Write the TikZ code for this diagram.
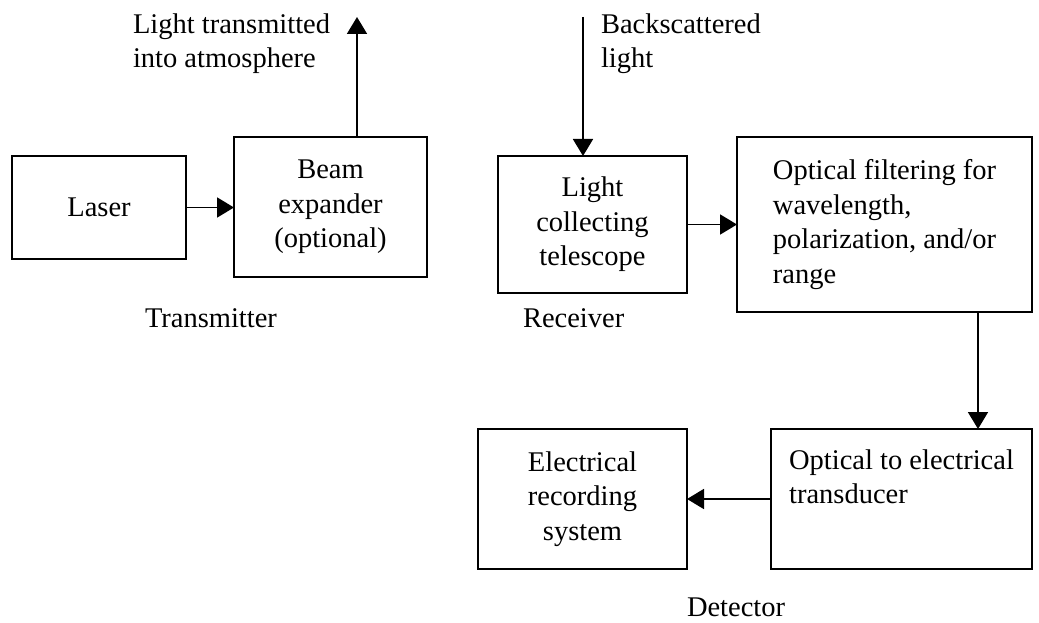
\documentclass[tikz,border=0pt]{standalone}
\usepackage{fontspec}
\setmainfont{Liberation Serif}
\usetikzlibrary{arrows.meta}
\begin{document}
\begin{tikzpicture}[x=1pt,y=-1pt,
  every node/.style={font=\fontsize{28.5}{34.5}\selectfont, inner sep=0pt, outer sep=0pt},
  box/.style={draw=black, line width=1.8pt, rectangle, align=center},
  lbox/.style={box, align=left},
  arr/.style={line width=1.8pt, -{Triangle[length=17pt,width=20pt]}},
  lbl/.style={anchor=base west},
  toplbl/.style={anchor=north west, align=left}]
\fill[white] (0,0) rectangle (1039,623);
\useasboundingbox (0,0) rectangle (1039,623);

% boxes
\node[box, minimum width=174pt, minimum height=103pt] (laser) at (99,207.5) {Laser};
\node[box, minimum width=193pt, minimum height=140pt] (beam) at (330.5,207) {Beam\\expander\\(optional)};
\node[box, minimum width=189pt, minimum height=137pt] (tele) at (592.5,224.5) {Light\\collecting\\telescope};
\node[lbox, minimum width=295pt, minimum height=175pt] (filt) at (884.5,224.5) {Optical filtering for\\wavelength,\\polarization, and/or\\range};
\node[lbox, minimum width=261pt, minimum height=140pt] (trans) at (901.5,499) {Optical to electrical\\transducer\\[10pt]\mbox{}};
\node[box, minimum width=209pt, minimum height=140pt] (rec) at (582.5,499) {Electrical\\recording\\system};

% free ends
\coordinate (sky) at (357,17);
\coordinate (bs) at (583,17);
\coordinate (down) at (978,0);

% connectors
\draw[arr] (laser.east) -- (laser.east -| beam.west);
\draw[arr] (sky |- beam.north) -- (sky);
\draw[arr] (bs) -- (bs |- tele.north);
\draw[arr] (tele.east) -- (tele.east -| filt.west);
\draw[arr] (down |- filt.south) -- (down |- trans.north);
\draw[arr] (trans.west) -- (trans.west -| rec.east);

% labels
\node[toplbl] (ltxt) at (133,13.5) {Light transmitted\\into atmosphere};
\node[toplbl] (btxt) at (601,13.5) {Backscattered\\light};
\node[lbl] (tx) at (145,327) {Transmitter};
\node[lbl] (rx) at (523,327) {Receiver};
\node[lbl] (dx) at (687,616) {Detector};
\end{tikzpicture}
\end{document}
